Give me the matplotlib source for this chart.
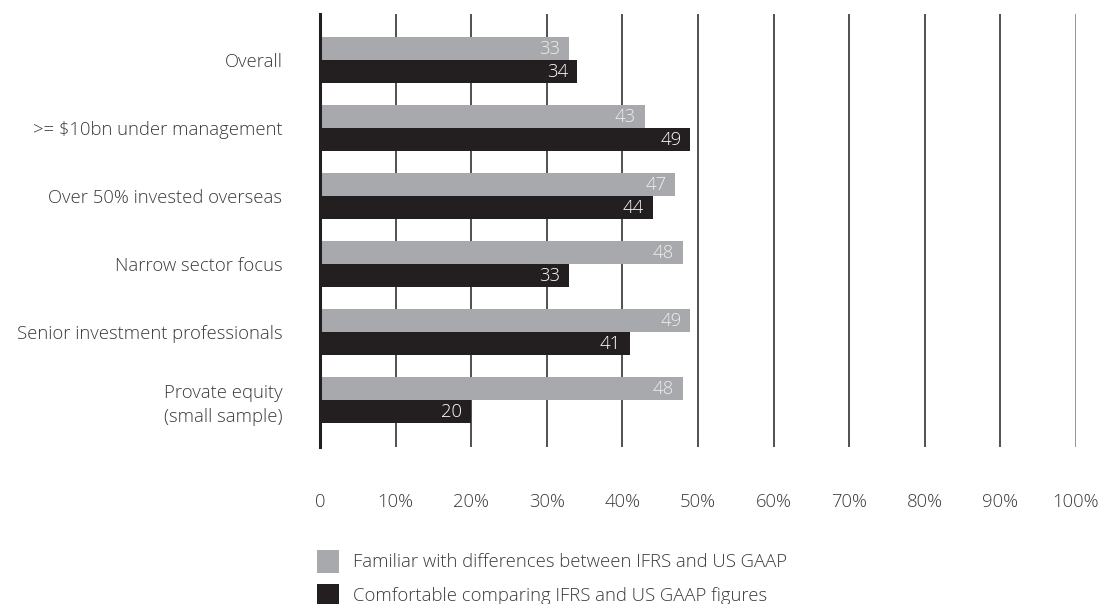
import matplotlib.pyplot as plt
from matplotlib.patches import Rectangle
import numpy as np

# ---- data ----
categories = ['Overall', '>= $10bn under management', 'Over 50% invested overseas',
              'Narrow sector focus', 'Senior investment professionals',
              'Provate equity\n(small sample)']
familiar    = [33, 43, 47, 48, 49, 48]
comfortable = [34, 49, 44, 33, 41, 20]
series_names = ['Familiar with differences between IFRS and US GAAP',
                'Comfortable comparing IFRS and US GAAP figures']
xticks = [0, 10, 20, 30, 40, 50, 60, 70, 80, 90, 100]
xtick_labels = ['0'] + [f'{v}%' for v in xticks[1:]]

GREY  = '#a7a9ac'
BLACK = '#231f20'
TEXT  = '#3a3a3a'
FONT  = 'Open Sans'
FS    = 13.3
WEIGHT = 'light'

plt.rcParams['font.family'] = [FONT, 'DejaVu Sans']
plt.rcParams['font.weight'] = WEIGHT

W, H = 1099, 604
fig = plt.figure(figsize=(W / 100, H / 100), dpi=100)
ax = fig.add_axes([320 / W, 1 - 447 / H, (1076 - 320) / W, (447 - 14) / H])

y = np.arange(len(categories))
h = 0.338
ax.barh(y - h / 2, familiar, height=h, color=GREY, zorder=3)
ax.barh(y + h / 2, comfortable, height=h, color=BLACK, zorder=3)

for yi, v in zip(y, familiar):
    ax.text(v - 1.2, yi - h / 2, str(v), ha='right', va='center',
            color='#eeeeee', fontsize=FS, zorder=4)
for yi, v in zip(y, comfortable):
    ax.text(v - 1.2, yi + h / 2, str(v), ha='right', va='center',
            color='white', fontsize=FS, zorder=4)

ax.set_xlim(0, 100)
ax.set_ylim(len(categories) - 1 + 0.69, -0.68)

for xv in xticks[1:]:
    ax.axvline(xv, color=BLACK if xv < 100 else '#777777', linewidth=1.1, zorder=1)

ax.set_xticks(xticks)
ax.set_xticklabels(xtick_labels, color=TEXT, fontsize=FS)
ax.set_yticks(y)
ax.set_yticklabels(categories, color=TEXT, fontsize=FS, linespacing=1.45)
ax.tick_params(axis='x', length=0, pad=33)
ax.tick_params(axis='y', length=0, pad=27)

for s in ['top', 'right', 'bottom']:
    ax.spines[s].set_visible(False)
ax.spines['left'].set_color(BLACK)
ax.spines['left'].set_linewidth(2.2)
ax.spines['left'].set_zorder(5)

# ---- legend ----
for i, (name, col) in enumerate(zip(series_names, [GREY, BLACK])):
    top = 550 + i * 34
    fig.add_artist(Rectangle((317 / W, 1 - (top + 23) / H), 22 / W, 23 / H,
                             transform=fig.transFigure, color=col, lw=0))
    fig.text(353 / W, 1 - (top + 12) / H, name, ha='left', va='center',
             color=TEXT, fontsize=FS)

fig.savefig('out.png', dpi=100, facecolor='white')
